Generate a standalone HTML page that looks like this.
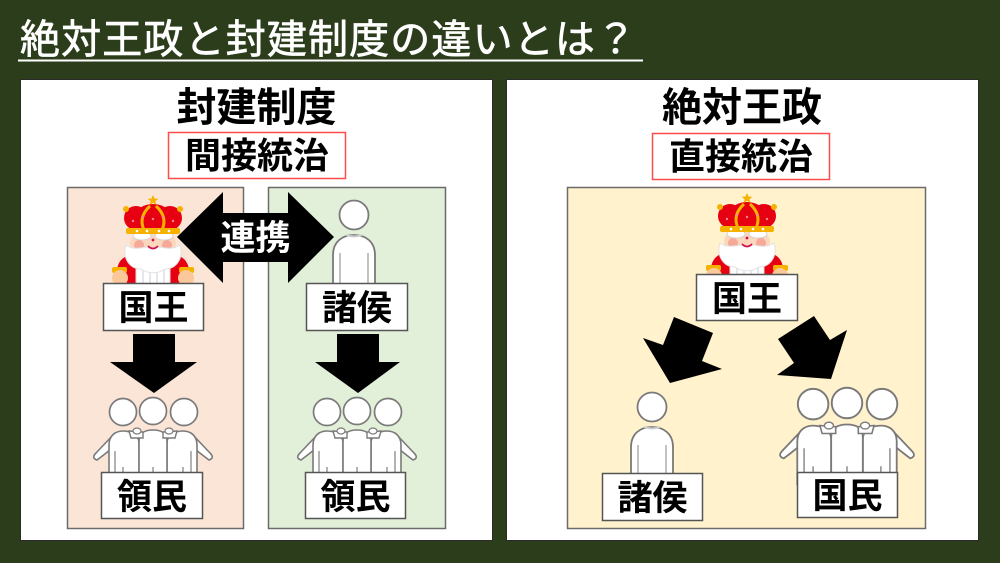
<!DOCTYPE html>
<html>
<head>
<meta charset="utf-8">
<style>
  html, body { margin: 0; padding: 0; background: #2c3d1c; }
  svg { display: block; }
  text { font-family: "Liberation Sans", "Noto Sans CJK JP", sans-serif; }
</style>
</head>
<body>
<svg width="1000" height="563" viewBox="0 0 1000 563" xmlns="http://www.w3.org/2000/svg">
  <defs>
    <!-- single person: head center at 0,0 -->
    <g id="p1">
      <path d="M -21,72 L -21,40 C -21,27 -12,20 0,20 C 12,20 21,27 21,40 L 21,72 Z" fill="#fff" stroke="#7a7a7a" stroke-width="1.8"/>
      <path d="M -14,38 L -14,70 M 14,38 L 14,70" stroke="#9a9a9a" stroke-width="1.2" fill="none"/>
      <circle cx="0" cy="0" r="14.5" fill="#fff" stroke="#7a7a7a" stroke-width="1.8"/>
      <path d="M -8,20 Q 0,23 8,20" stroke="#ccc" stroke-width="2" fill="none"/>
    </g>
    <!-- group of three: middle head center at 0,0 -->
    <g id="p3">
      <path d="M -38,22 L -57,42 Q -62,47 -56,49 L -52,46 L -38,35 Z" fill="#fff" stroke="#7a7a7a" stroke-width="1.6" stroke-linejoin="round"/>
      <path d="M 38,22 L 57,42 Q 62,47 56,49 L 52,46 L 38,35 Z" fill="#fff" stroke="#7a7a7a" stroke-width="1.6" stroke-linejoin="round"/>
      <path d="M -44,72 L -44,34 C -44,25 -38,20 -30,20 C -22,20 -14,24 -14,32 L -14,72 Z" fill="#fff" stroke="#7a7a7a" stroke-width="1.6"/>
      <path d="M 44,72 L 44,34 C 44,25 38,20 30,20 C 22,20 14,24 14,32 L 14,72 Z" fill="#fff" stroke="#7a7a7a" stroke-width="1.6"/>
      <path d="M -14,72 L -14,30 C -14,22 -8,19 0,19 C 8,19 14,22 14,30 L 14,72 Z" fill="#fff" stroke="#7a7a7a" stroke-width="1.6"/>
      <path d="M -24,20 L -10,21 L -10,27 L -22,27 Z M 24,20 L 10,21 L 10,27 L 22,27 Z" fill="#fff" stroke="#7a7a7a" stroke-width="1.4"/>
      <path d="M -30,56 L -30,72 M 0,56 L 0,72 M 30,56 L 30,72 M -38,40 L -38,70 M 38,40 L 38,70" stroke="#8a8a8a" stroke-width="1.3" fill="none"/>
      <circle cx="-30" cy="1" r="13.5" fill="#fff" stroke="#7a7a7a" stroke-width="1.7"/>
      <circle cx="31" cy="1" r="13.5" fill="#fff" stroke="#7a7a7a" stroke-width="1.7"/>
      <circle cx="0" cy="0" r="13.5" fill="#fff" stroke="#7a7a7a" stroke-width="1.7"/>
      <ellipse cx="-16" cy="20" rx="4" ry="3" fill="#fff" stroke="#7a7a7a" stroke-width="1.2"/>
      <ellipse cx="16" cy="20" rx="4" ry="3" fill="#fff" stroke="#7a7a7a" stroke-width="1.2"/>
    </g>
    <!-- king: star top at 0,0 -->
    <g id="king">
      <path d="M -36,92 L -36,74 C -34,64 -28,60 -18,60 L -12,92 Z" fill="#e60012"/>
      <path d="M 36,92 L 36,74 C 34,64 28,60 18,60 L 12,92 Z" fill="#e60012"/>
      <rect x="-17" y="62" width="34" height="30" fill="#fff" stroke="#ddd" stroke-width="1"/>
      <path d="M -10,66 L -10,92 M -3,68 L -3,92 M 4,68 L 4,92 M 11,66 L 11,92" stroke="#d5d5e5" stroke-width="1.2"/>
      <rect x="-41" y="72" width="15" height="6" rx="2" fill="#f6b200"/>
      <rect x="26" y="72" width="15" height="6" rx="2" fill="#f6b200"/>
      <circle cx="-33" cy="83" r="8" fill="#fbc89c"/>
      <circle cx="33" cy="83" r="8" fill="#fbc89c"/>
      <ellipse cx="0" cy="48" rx="23" ry="13" fill="#fcd6bd"/>
      <circle cx="-14" cy="50" r="5" fill="#f6a899"/>
      <circle cx="14" cy="50" r="5" fill="#f6a899"/>
      <path d="M -27,50 C -31,62 -24,74 -12,74 C -5,79 5,79 12,74 C 24,74 31,62 27,50 C 20,55 12,53 6,52 C 2,54 -2,54 -6,52 C -12,53 -20,55 -27,50 Z" fill="#fff" stroke="#e2e2e2" stroke-width="1"/>
      <path d="M -5,51 Q 0,56 5,51" stroke="#d0104c" stroke-width="1.6" fill="none"/>
      <circle cx="0" cy="45" r="1.4" fill="#d0104c"/>
      <ellipse cx="-11" cy="41" rx="9" ry="4" fill="#fff" stroke="#ccc" stroke-width="0.8"/>
      <ellipse cx="11" cy="41" rx="9" ry="4" fill="#fff" stroke="#ccc" stroke-width="0.8"/>
      <circle cx="-17" cy="23" r="12" fill="#e60012"/>
      <circle cx="17" cy="23" r="12" fill="#e60012"/>
      <path d="M -21,36 C -23,15 -10,9 0,9 C 10,9 23,15 21,36 Z" fill="#e60012"/>
      <path d="M -9,35 Q -15,22 -3,11" stroke="#f6b200" stroke-width="3" fill="none"/>
      <path d="M 9,35 Q 15,22 3,11" stroke="#f6b200" stroke-width="3" fill="none"/>
      <circle cx="-27" cy="14" r="3" fill="#f6b200"/>
      <circle cx="27" cy="14" r="3" fill="#f6b200"/>
      <circle cx="-10" cy="22" r="1.2" fill="#ff8a8a"/>
      <circle cx="10" cy="22" r="1.2" fill="#ff8a8a"/>
      <circle cx="-20" cy="26" r="1.2" fill="#ff8a8a"/>
      <circle cx="20" cy="26" r="1.2" fill="#ff8a8a"/>
      <circle cx="0" cy="24" r="1.2" fill="#ff8a8a"/>
      <rect x="-27" y="33" width="54" height="6" rx="2" fill="#f6b200"/>
      <circle cx="-16" cy="36" r="1.3" fill="#fff"/>
      <circle cx="-6" cy="36" r="1.3" fill="#fff"/>
      <circle cx="6" cy="36" r="1.3" fill="#fff"/>
      <circle cx="16" cy="36" r="1.3" fill="#fff"/>
      <path d="M 0,0 L 1.6,3.6 L 5.4,3.8 L 2.4,6.2 L 3.4,10 L 0,7.8 L -3.4,10 L -2.4,6.2 L -5.4,3.8 L -1.6,3.6 Z" fill="#f6b200"/>
    </g>
  </defs>

  <rect x="0" y="0" width="1000" height="563" fill="#2c3d1c"/>

  <text x="20" y="53" font-size="40" fill="#ffffff" stroke="#ffffff" stroke-width="0.7" textLength="616" lengthAdjust="spacing">絶対王政と封建制度の違いとは？</text>
  <line x1="18" y1="60.5" x2="643" y2="60.5" stroke="#ffffff" stroke-width="2"/>

  <rect x="20.5" y="79.5" width="472" height="461" fill="#ffffff" stroke="#2a2a2a" stroke-width="1"/>
  <rect x="506.5" y="79.5" width="472" height="461" fill="#ffffff" stroke="#2a2a2a" stroke-width="1"/>

  <text x="256.5" y="121" font-size="40" font-weight="bold" text-anchor="middle" fill="#000">封建制度</text>
  <rect x="168.5" y="132.5" width="177" height="46" fill="#fff" stroke="#ff4d4d" stroke-width="1.5"/>
  <text x="257" y="168" font-size="36" font-weight="bold" text-anchor="middle" fill="#000">間接統治</text>

  <text x="742" y="121" font-size="40" font-weight="bold" text-anchor="middle" fill="#000">絶対王政</text>
  <rect x="652.5" y="133.5" width="177" height="46" fill="#fff" stroke="#ff4d4d" stroke-width="1.5"/>
  <text x="741" y="169" font-size="36" font-weight="bold" text-anchor="middle" fill="#000">直接統治</text>

  <rect x="67.5" y="187.5" width="176" height="341" fill="#fbe5d6" stroke="#6b6b6b" stroke-width="1.5"/>
  <rect x="268.5" y="187.5" width="177" height="341" fill="#e2f0d9" stroke="#6b6b6b" stroke-width="1.5"/>
  <rect x="567.5" y="187.5" width="358" height="341" fill="#fff2cc" stroke="#6b6b6b" stroke-width="1.5"/>

  <use href="#king" transform="translate(153,195)"/>
  <use href="#king" transform="translate(747,193)"/>
  <use href="#p1" transform="translate(354,215)"/>
  <use href="#p1" transform="translate(652,407)"/>
  <use href="#p3" transform="translate(153,411)"/>
  <use href="#p3" transform="translate(357,411)"/>
  <use href="#p3" transform="translate(847,403) scale(1.13)"/>

  <polygon points="177,237 223,192 223,213 288,213 288,192 334,237 288,283 288,262 223,262 223,283" fill="#000"/>
  <text x="255.5" y="250" font-size="35" font-weight="bold" text-anchor="middle" fill="#fff">連携</text>
  <polygon points="133,334 175,334 175,362 197,362 154,393 110,362 133,362" fill="#000"/>
  <polygon points="337,334 379,334 379,362 400,362 358,393 315,362 337,362" fill="#000"/>
  <polygon points="674,317 713,333 702,361 722,369 670,383 643,338 663,345" fill="#000"/>
  <polygon points="778,339 814,316 830,340 847,330 831,379 777,375 794,363" fill="#000"/>

  <rect x="103.5" y="283.5" width="100" height="47" fill="#fff" stroke="#555" stroke-width="1.5"/>
  <text x="153.5" y="320" font-size="35" font-weight="bold" text-anchor="middle" fill="#000">国王</text>

  <rect x="306.5" y="283.5" width="101" height="47" fill="#fff" stroke="#555" stroke-width="1.5"/>
  <text x="357" y="320" font-size="35" font-weight="bold" text-anchor="middle" fill="#000">諸侯</text>

  <rect x="101.5" y="472.5" width="101" height="46" fill="#fff" stroke="#555" stroke-width="1.5"/>
  <text x="152" y="509" font-size="35" font-weight="bold" text-anchor="middle" fill="#000">領民</text>

  <rect x="305.5" y="472.5" width="100" height="46" fill="#fff" stroke="#555" stroke-width="1.5"/>
  <text x="355.5" y="509" font-size="35" font-weight="bold" text-anchor="middle" fill="#000">領民</text>

  <rect x="696.5" y="274.5" width="101" height="46" fill="#fff" stroke="#555" stroke-width="1.5"/>
  <text x="747" y="311" font-size="35" font-weight="bold" text-anchor="middle" fill="#000">国王</text>

  <rect x="602.5" y="473.5" width="100" height="47" fill="#fff" stroke="#555" stroke-width="1.5"/>
  <text x="652.5" y="510" font-size="35" font-weight="bold" text-anchor="middle" fill="#000">諸侯</text>

  <rect x="797.5" y="472.5" width="100" height="45" fill="#fff" stroke="#555" stroke-width="1.5"/>
  <text x="847.5" y="508" font-size="35" font-weight="bold" text-anchor="middle" fill="#000">国民</text>
</svg>
</body>
</html>
